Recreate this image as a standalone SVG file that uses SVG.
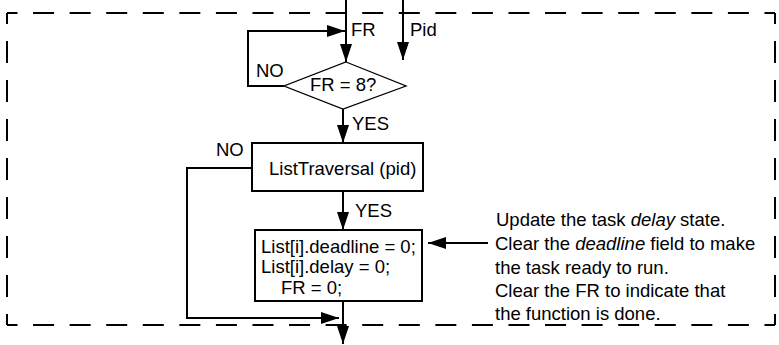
<svg xmlns="http://www.w3.org/2000/svg" width="779" height="345" viewBox="0 0 779 345">
<style>
text{font-family:"Liberation Sans",Arial,sans-serif;font-size:18.5px;fill:#000}
.ln{fill:none;stroke:#000;stroke-width:2}
.box{fill:#fff;stroke:#000;stroke-width:2}
.dia{fill:#fff;stroke:#000;stroke-width:1.3}
.fh{fill:none;stroke:#000;stroke-width:2;stroke-dasharray:21 15.57;stroke-dashoffset:10.5}
.fv{fill:none;stroke:#000;stroke-width:2;stroke-dasharray:22 17;stroke-dashoffset:11}
</style>
<defs>
<marker id="ah" markerUnits="userSpaceOnUse" markerWidth="18" markerHeight="12" refX="18" refY="6" orient="auto">
<path d="M0,0 L18,6 L0,12 z" fill="#000"/>
</marker>
</defs>
<g id="frame">
<line class="fh" x1="7" y1="13" x2="775" y2="13"/>
<line class="fh" x1="7" y1="325" x2="775" y2="325"/>
<line class="fv" x1="7" y1="13" x2="7" y2="325"/>
<line class="fv" x1="775" y1="13" x2="775" y2="325"/>
</g>
<g id="connectors">
<path class="ln" d="M346,0 V62" marker-end="url(#ah)"/>
<path class="ln" d="M403,0 V60" marker-end="url(#ah)"/>
<path class="ln" d="M284,86 H248 V31 H345" marker-end="url(#ah)"/>
<path class="ln" d="M343,109 V143" marker-end="url(#ah)"/>
<path class="ln" d="M252,168 H187 V318 H339" marker-end="url(#ah)"/>
<path class="ln" d="M343,191 V230" marker-end="url(#ah)"/>
<path class="ln" d="M343,301 V344" marker-end="url(#ah)"/>
<path class="ln" d="M488,243 H428" marker-end="url(#ah)"/>
</g>
<g id="labels">
<text x="351" y="36">FR</text>
<text x="410" y="36">Pid</text>
<text x="256" y="77">NO</text>
<text x="352" y="130">YES</text>
<text x="216" y="156">NO</text>
<text x="355" y="217">YES</text>
</g>
<g id="decision">
<polygon class="dia" points="346,62 406,86 343,109 284,86"/>
<text x="310" y="91">FR = 8?</text>
</g>
<g id="traversal">
<rect class="box" x="252" y="143" width="171" height="48"/>
<text x="269" y="175">ListTraversal (pid)</text>
</g>
<g id="update">
<rect class="box" x="255" y="230" width="167" height="71"/>
<text x="261" y="253">List[i].deadline = 0;</text>
<text x="261" y="273">List[i].delay = 0;</text>
<text x="281" y="294">FR = 0;</text>
</g>
<g id="note">
<text x="496" y="226">Update the task <tspan font-style="italic">delay</tspan> state.</text>
<text x="495" y="250">Clear the <tspan font-style="italic">deadline</tspan> field to make</text>
<text x="495" y="274">the task ready to run.</text>
<text x="495" y="297">Clear the FR to indicate that</text>
<text x="495" y="320">the function is done.</text>
</g>
</svg>
